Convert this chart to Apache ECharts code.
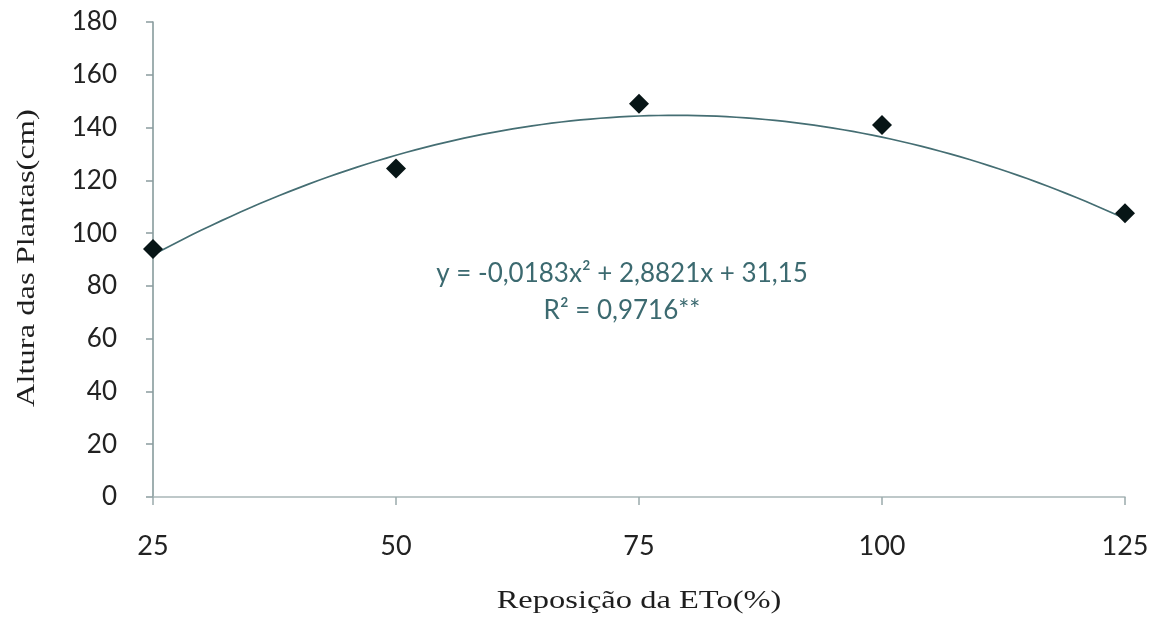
<!DOCTYPE html>
<html>
<head>
<meta charset="utf-8">
<script src="https://cdn.jsdelivr.net/npm/echarts@6/dist/echarts.min.js"></script>
<style>
  html, body { margin: 0; padding: 0; background: #ffffff; }
  #chart { width: 1158px; height: 620px; }
</style>
</head>
<body>
<div id="chart"></div>
<script>
// Irrigation replacement levels (% of ETo) and measured plant heights (cm)
const reposicao = [25, 50, 75, 100, 125];
const altura = [94, 124.5, 149, 141, 107.5];

// Quadratic fit coefficients [a, b, c] for y = a*x^2 + b*x + c, as printed on the chart
const ajuste = [-0.0183, 2.8821, 31.15];
const equacaoTexto = 'y = -0,0183x² + 2,8821x + 31,15';
const r2Texto = 'R² = 0,9716**';

const xTitulo = 'Reposição da ETo(%)';
const yTitulo = 'Altura das Plantas(cm)';

// Sample the fitted curve across the x range
const curva = [];
for (let x = reposicao[0]; x <= reposicao[reposicao.length - 1]; x += 1) {
  curva.push([x, ajuste[0] * x * x + ajuste[1] * x + ajuste[2]]);
}

const chart = echarts.init(document.getElementById('chart'), null, { renderer: 'canvas' });

const serifTitle = { fontFamily: 'Liberation Serif', fontSize: 25, fill: '#1e1e1e' };

chart.setOption({
  backgroundColor: '#ffffff',
  animation: false,
  grid: { left: 153, right: 33, top: 22, bottom: 123, containLabel: false, outerBoundsMode: 'none' },
  xAxis: {
    type: 'value',
    min: 25, max: 125, interval: 25,
    axisLine: { onZero: false, lineStyle: { color: '#a9b6b8', width: 1.5 } },
    axisTick: { show: true, inside: false, length: 8, lineStyle: { color: '#9aaaac', width: 1.5 } },
    axisLabel: { margin: 36, fontFamily: 'Lato', fontSize: 27, color: '#222222' },
    splitLine: { show: false }
  },
  yAxis: {
    type: 'value',
    min: 0, max: 180, interval: 20,
    axisLine: { show: true, lineStyle: { color: '#7f9496', width: 1.5 } },
    axisTick: { show: true, inside: false, length: 7, lineStyle: { color: '#8a9c9e', width: 1.5 } },
    axisLabel: { margin: 36, fontFamily: 'Lato', fontSize: 26, color: '#222222' },
    splitLine: { show: false }
  },
  title: {
    text: equacaoTexto + '\n' + r2Texto,
    left: 617, top: 250,
    textAlign: 'center',
    textStyle: {
      fontFamily: 'Lato', fontSize: 26, fontWeight: 'normal',
      color: '#3c6a70', lineHeight: 37, align: 'center'
    }
  },
  // Axis titles, set in a wide serif face
  graphic: [
    {
      type: 'text',
      x: 639, y: 601,
      scaleX: 1.3,
      style: Object.assign({ text: xTitulo, align: 'center', verticalAlign: 'middle' }, serifTitle),
      silent: true
    },
    {
      type: 'text',
      x: 27, y: 258,
      rotation: Math.PI / 2,
      scaleX: 1.3,
      style: Object.assign({ text: yTitulo, align: 'center', verticalAlign: 'middle' }, serifTitle),
      silent: true
    }
  ],
  series: [
    {
      type: 'line',
      data: curva,
      showSymbol: false,
      smooth: false,
      lineStyle: { color: '#456e73', width: 1.7 },
      z: 2
    },
    {
      type: 'scatter',
      data: reposicao.map((x, i) => [x, altura[i]]),
      symbol: 'diamond',
      symbolSize: 20,
      itemStyle: { color: '#071516', opacity: 1 },
      z: 3
    }
  ]
});
</script>
</body>
</html>
